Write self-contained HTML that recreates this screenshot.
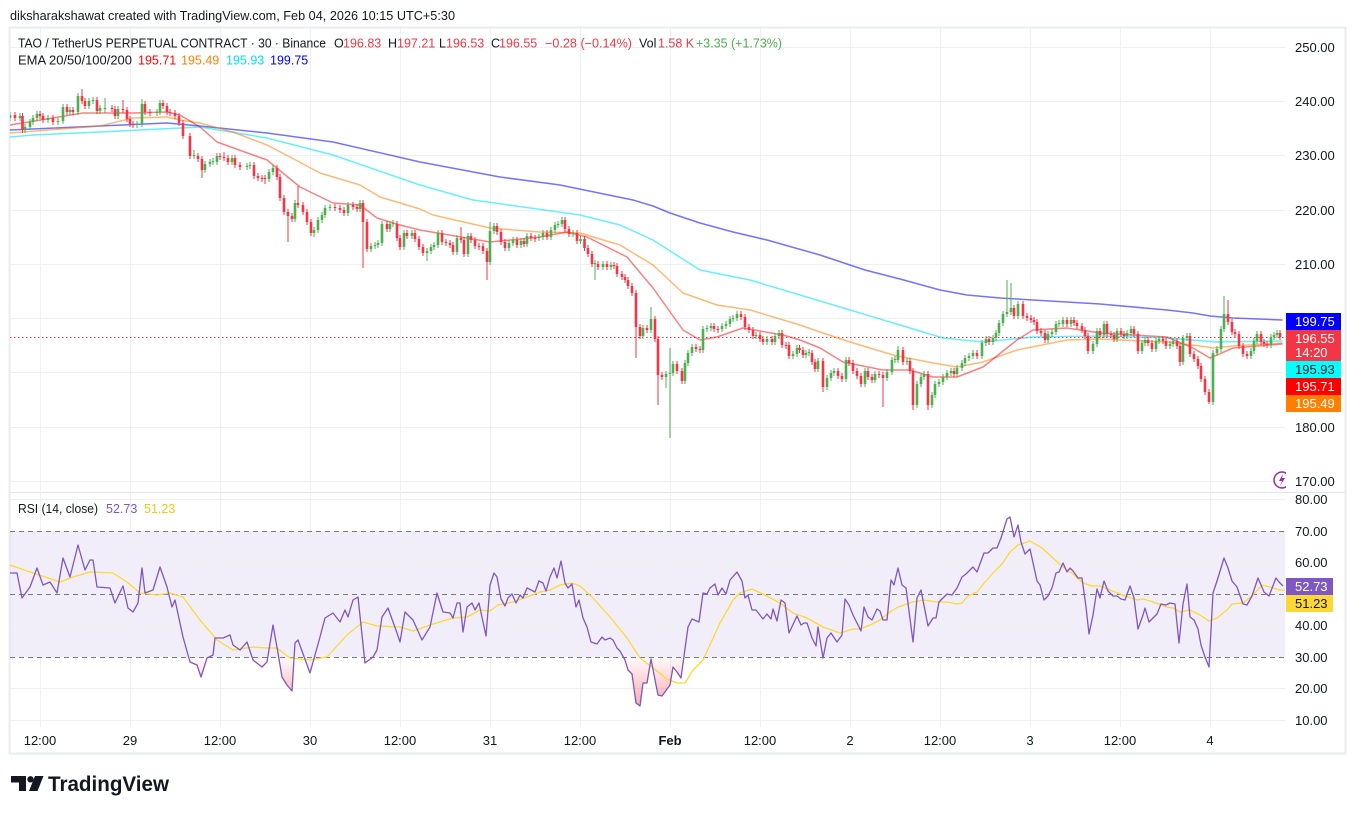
<!DOCTYPE html>
<html><head><meta charset="utf-8">
<style>
html,body{margin:0;padding:0;background:#fff;}
svg{display:block;font-family:"Liberation Sans",Arial,sans-serif;}
</style></head><body>
<svg width="1355" height="814" viewBox="0 0 1355 814" xmlns="http://www.w3.org/2000/svg">
<defs>
<clipPath id="pp"><rect x="10" y="28" width="1275" height="463"/></clipPath>
<clipPath id="rp"><rect x="10" y="493" width="1275" height="234"/></clipPath>
<clipPath id="below30"><rect x="10" y="657" width="1275" height="70"/></clipPath>
<clipPath id="iconclip"><rect x="1260" y="460" width="26" height="30"/></clipPath>
<linearGradient id="osg" x1="0" y1="657" x2="0" y2="710" gradientUnits="userSpaceOnUse">
<stop offset="0" stop-color="#f23645" stop-opacity="0.02"/>
<stop offset="1" stop-color="#f23645" stop-opacity="0.45"/>
</linearGradient>
</defs>
<rect width="1355" height="814" fill="#fff"/>

<text x="10" y="20" font-size="13" fill="#131722" textLength="445" lengthAdjust="spacingAndGlyphs">diksharakshawat created with TradingView.com, Feb 04, 2026 10:15 UTC+5:30</text>

<rect x="9.5" y="27.5" width="1336" height="726" fill="none" stroke="#e9ecf1" stroke-width="2"/>
<line x1="10" y1="492.5" x2="1345" y2="492.5" stroke="#e0e3eb" stroke-width="1"/>

<rect x="10" y="531" width="1275" height="126" fill="#7e57c2" fill-opacity="0.1"/>

<g stroke="#eef0f4" stroke-width="1">
<line x1="40.5" y1="28" x2="40.5" y2="727"/><line x1="130.5" y1="28" x2="130.5" y2="727"/>
<line x1="220.5" y1="28" x2="220.5" y2="727"/><line x1="310.5" y1="28" x2="310.5" y2="727"/>
<line x1="400.5" y1="28" x2="400.5" y2="727"/><line x1="490.5" y1="28" x2="490.5" y2="727"/>
<line x1="580.5" y1="28" x2="580.5" y2="727"/><line x1="670.5" y1="28" x2="670.5" y2="727"/>
<line x1="760.5" y1="28" x2="760.5" y2="727"/><line x1="850.5" y1="28" x2="850.5" y2="727"/>
<line x1="940.5" y1="28" x2="940.5" y2="727"/><line x1="1030.5" y1="28" x2="1030.5" y2="727"/>
<line x1="1120.5" y1="28" x2="1120.5" y2="727"/><line x1="1210.5" y1="28" x2="1210.5" y2="727"/>
<line x1="10" y1="47.5" x2="1285" y2="47.5"/><line x1="10" y1="101.5" x2="1285" y2="101.5"/>
<line x1="10" y1="155.5" x2="1285" y2="155.5"/><line x1="10" y1="210.5" x2="1285" y2="210.5"/>
<line x1="10" y1="264.5" x2="1285" y2="264.5"/><line x1="10" y1="318.5" x2="1285" y2="318.5"/>
<line x1="10" y1="372.5" x2="1285" y2="372.5"/><line x1="10" y1="427.5" x2="1285" y2="427.5"/>
<line x1="10" y1="481.5" x2="1285" y2="481.5"/>
<line x1="10" y1="499.5" x2="1285" y2="499.5"/><line x1="10" y1="562.5" x2="1285" y2="562.5"/>
<line x1="10" y1="625.5" x2="1285" y2="625.5"/><line x1="10" y1="688.5" x2="1285" y2="688.5"/>
<line x1="10" y1="720.5" x2="1285" y2="720.5"/>
</g>
<g stroke="#787b86" stroke-width="1" stroke-dasharray="5,4">
<line x1="10" y1="531.5" x2="1285" y2="531.5"/>
<line x1="10" y1="594.5" x2="1285" y2="594.5"/>
<line x1="10" y1="657.5" x2="1285" y2="657.5"/>
</g>

<g clip-path="url(#pp)">
<line x1="10" y1="337.5" x2="1285" y2="337.5" stroke="#f23645" stroke-width="1" stroke-dasharray="1.5,2.5"/>
<g fill="none" stroke-width="1.5" stroke-linejoin="round" stroke-linecap="round">
<polyline stroke="#0000ff" stroke-opacity="0.55" points="10,130 100,126 167,123 200,126 267,133 333,142 420,162 500,177 560,185 633,200 653,206 670,213 700,223 733,232 767,240 820,255 865,270 900,279 940,290 967,295 1000,298 1033,300 1100,304 1167,310 1193,313 1210,316 1233,318 1282,320"/>
<polyline stroke="#00e5ff" stroke-opacity="0.6" points="10,137 33,135 100,132 200,127 267,138 333,155 420,185 473,200 580,215 620,225 653,240 700,270 750,280 800,295 850,310 900,325 943,338 983,342 1033,337 1100,336 1167,338 1217,342 1282,341"/>
<polyline stroke="#ff8000" stroke-opacity="0.55" points="10,133 100,126 133,118 167,117 180,120 200,123 233,132 267,145 290,157 320,173 360,185 380,197 400,203 420,209 433,215 490,228 540,232 580,233 620,245 653,265 683,293 717,305 750,310 800,325 820,332 850,342 893,355 933,363 957,367 983,362 1017,350 1067,340 1100,339 1167,342 1200,346 1213,348 1233,346 1282,343"/>
<polyline stroke="#ff0000" stroke-opacity="0.5" points="10,125 83,113 133,113 167,112 180,115 200,127 217,142 267,160 300,187 333,203 360,205 377,218 400,225 420,230 490,242 540,237 567,232 587,237 627,257 653,288 683,330 700,340 717,337 743,328 783,335 800,340 820,348 843,362 883,370 910,370 933,377 957,377 983,367 1017,340 1033,330 1067,328 1100,333 1167,337 1193,348 1210,358 1233,348 1282,344"/>
</g>
<!-- green wicks -->
<path fill="none" stroke="#4caf50" stroke-width="1" d="M10 112V121M20 113V121M25 124V133M30 119V130M33 115V125M37 111V121M48 115V123M58 118V125M63 104V124M70 107V115M78 93V115M89 98V109M93 97V104M100 105V114M105 98V113M118 106V119M137 121V128M142 99V127M157 109V116M160 100V115M194 150V159M205 161V173M210 159V167M213 158V165M217 153V165M232 155V165M247 163V170M250 162V169M269 169V182M273 165V175M295 200V222M314 227V237M318 217V233M322 212V223M325 205V218M330 204V211M348 202V216M360 200V212M371 243V252M375 242V249M378 240V248M382 221V246M390 221V232M393 220V227M404 230V250M412 230V239M427 248V261M431 244V254M434 242V250M438 230V248M457 235V255M468 233V257M490 222V265M494 223V234M509 240V251M513 237V246M521 238V248M527 233V247M539 234V241M543 230V240M551 227V240M555 222V233M558 221V228M562 217V227M573 230V237M580.5 236V244M595 260V280M603 261V270M611 262V270M643 325V339M651 307V333M666 371V388M670 348V438M673 361V376M685 360V384M688 350V366M692 344V356M703 326V353M707 325V332M711 323V331M722 323V332M726 321V329M730 316V327M733 315V322M737 311V321M756 332V339M767 336V345M775 333V345M779 330V339M793 351V359M797 345V357M806 350V358M809 349V356M818 358V372M827 375V390M831 370V381M834 368V376M846 357V382M865 368V387M875 371V383M887 369V381M892 357V375M895 356V363M898 346V363M907 358V365M917 381V408M921 374V387M924 371V380M932 392V408M935 381V398M939 379V387M943 374V385M947 370V380M951 368V376M957 365V377M962 360V371M965 355V366M969 353V361M973 350V359M982 340V359M986 336V346M993 335V345M996 330V341M999 320V336M1003 311V326M1007 280V317M1011 283V315M1018 301V319M1048 331V343M1052 329V337M1056 321V335M1059 320V327M1063 317V327M1071 317V327M1093 341V354M1097 328V347M1104 321V338M1117 328V342M1127 330V339M1131 326V336M1142 340V354M1145 337V346M1156 338V352M1159 336V344M1170 341V349M1173 338V347M1183 335V365M1187 333V341M1213 350V405M1217 346V356M1221 326V352M1224 296V332M1251 348V359M1254 338V354M1257 331V344M1271 334V348M1274 332V340M1277 330V338"/>
<!-- green bodies -->
<path fill="none" stroke="#4caf50" stroke-width="2.6" d="M10 115V118M20 116V118M25 127V130M30 122V127M33 118V122M37 114V118M48 118V120M58 121V122M63 107V121M70 110V112M78 96V112M89 101V106M93 100V101M100 108V111M105 108V109M118 109V116M137 124V125M142 104V124M157 112V113M160 103V112M194 155V156M205 164V170M210 162V164M213 161V162M217 156V162M232 158V162M247 166V167M250 165V166M269 172V179M273 168V172M295 203V219M314 230V233M318 220V230M322 215V220M325 208V215M330 207V208M348 205V213M360 203V209M371 246V249M375 245V246M378 243V245M382 224V243M390 224V229M393 223V224M404 233V247M412 233V236M427 251V253M431 247V251M434 245V247M438 233V245M457 238V252M468 236V254M490 231V262M494 226V231M509 243V248M513 240V243M521 241V245M527 236V244M539 237V238M543 233V237M551 230V237M555 225V230M558 224V225M562 220V224M573 233V234M580.5 239V241M595 263V264M603 264V267M611 265V267M643 328V336M651 319V330M666 374V377M670 373V374M673 364V373M685 363V381M688 353V363M692 347V353M703 329V350M707 328V329M711 326V328M722 326V329M726 324V326M730 319V324M733 318V319M737 314V318M756 335V336M767 339V342M775 336V342M779 333V336M793 354V356M797 348V354M806 353V355M809 352V353M818 361V369M827 378V387M831 373V378M834 371V373M846 360V379M865 371V384M875 374V380M887 372V378M892 360V372M895 359V360M898 350V360M907 361V362M917 384V405M921 377V384M924 374V377M932 395V405M935 384V395M939 382V384M943 377V382M947 373V377M951 371V373M957 368V374M962 363V368M965 358V363M969 356V358M973 353V356M982 343V356M986 339V343M993 338V342M996 333V338M999 323V333M1003 314V323M1007 312V314M1011 308V312M1018 304V316M1048 334V340M1052 332V334M1056 324V332M1059 323V324M1063 320V324M1071 320V324M1093 344V351M1097 331V344M1104 324V335M1117 331V339M1127 333V336M1131 329V333M1142 343V351M1145 340V343M1156 341V349M1159 339V341M1170 344V346M1173 341V344M1183 338V362M1187 336V338M1213 353V402M1217 349V353M1221 329V349M1224 314V329M1251 351V356M1254 341V351M1257 334V341M1271 337V345M1274 335V337M1277 333V335"/>
<!-- red wicks -->
<path fill="none" stroke="#f23645" stroke-width="1" d="M15 112V121M22.5 113V133M40 111V119M43 113V123M53 115V125M67 104V115M73 107V115M82 89V104M85 98V109M97 97V114M112 105V112M115 106V119M123 100V113M127 107V122M130 116V127M133 121V128M145 101V115M150 109V116M163 100V109M167 103V115M170 109V116M175 110V119M179 113V126M183 120V139M190 133V159M198 153V162M202 156V178M220 153V160M224 152V161M228 155V165M235 155V168M240 162V170M254 162V179M258 173V181M262 175V182M265 175V184M277 165V180M280 174V201M284 195V215M288 209V242M292 213V222M298 186V208M303 202V215M307 209V225M311 219V236M335 204V211M340 205V213M344 207V216M353 202V210M357 204V212M363 200V268M367 219V252M387 221V232M397 221V241M400 235V250M407 230V239M415 230V242M419 236V250M423 244V256M442 230V245M446 239V246M450 240V248M453 242V255M461 227V243M464 237V257M471 233V243M475 237V249M479 243V250M483 243V254M487 248V280M497 223V235M501 229V245M505 239V251M517 237V248M524 238V247M531 233V241M535 235V242M547 230V240M565 217V232M569 226V237M577 230V244M584.5 236V251M588 245V257M592 251V267M598 261V270M607 261V270M614 262V269M617 263V277M622 271V280M625 274V283M628 277V289M632 283V296M636 290V358M640 324V339M647 325V333M655 316V342M658 336V405M662 372V380M677 361V374M682 368V384M696 344V352M700 346V353M714 323V332M718 326V333M741 311V320M745 314V330M749 324V333M753 327V339M760 332V342M763 336V345M772 336V345M782 330V348M786 342V349M789 342V359M799.5 345V353M803 347V358M812 350V365M815 359V372M823 358V392M838 368V379M842 373V382M849 357V366M853 360V374M857 368V379M861 373V387M868 368V380M872 374V383M879 371V378M883 372V407M903 347V365M910 358V374M913 368V410M928 371V410M954 368V377M977 350V359M989 336V345M1014 305V319M1023 301V319M1027 313V321M1031 315V323M1034 317V325M1037 319V334M1041 328V336M1045 330V343M1067 317V327M1074 317V326M1077 320V329M1082 323V333M1085 327V339M1088 333V354M1100 328V338M1107 321V337M1111 331V338M1114 332V342M1121 328V337M1124 331V339M1134 326V337M1138 331V354M1148 337V346M1152 340V352M1163 336V344M1166 338V349M1177 338V349M1180 343V366M1190 333V357M1194 351V362M1198 356V369M1201 363V382M1205 376V395M1209 389V404M1228 300V325M1232 319V335M1235 329V337M1239 331V349M1243 343V357M1247 351V359M1261 331V345M1264 339V347M1267 341V348M1280 330V340"/>
<!-- red bodies -->
<path fill="none" stroke="#f23645" stroke-width="2.6" d="M15 115V118M22.5 116V130M40 114V116M43 116V120M53 118V122M67 107V112M73 110V112M82 96V101M85 101V106M97 100V111M112 108V109M115 109V116M123 109V110M127 110V119M130 119V124M133 124V125M145 104V112M150 112V113M163 103V106M167 106V112M170 112V113M175 113V116M179 116V123M183 123V136M190 136V156M198 156V159M202 159V170M220 156V157M224 157V158M228 158V162M235 158V165M240 165V167M254 165V176M258 176V178M262 178V179M265 178V179M277 168V177M280 177V198M284 198V212M288 212V216M292 216V219M298 203V205M303 205V212M307 212V222M311 222V233M335 207V208M340 208V210M344 210V213M353 205V207M357 207V209M363 203V222M367 222V249M387 224V229M397 224V238M400 238V247M407 233V236M415 233V239M419 239V247M423 247V253M442 233V242M446 242V243M450 243V245M453 245V252M461 238V240M464 240V254M471 236V240M475 240V246M479 246V247M483 246V251M487 251V262M497 226V232M501 232V242M505 242V248M517 240V245M524 241V244M531 236V238M535 238V239M547 233V237M565 220V229M569 229V234M577 233V241M584.5 239V248M588 248V254M592 254V264M598 264V267M607 264V267M614 265V266M617 266V274M622 274V277M625 277V280M628 280V286M632 286V293M636 293V327M640 327V336M647 328V330M655 319V339M658 339V375M662 375V377M677 364V371M682 371V381M696 347V349M700 349V350M714 326V329M718 329V330M741 314V317M745 317V327M749 327V330M753 330V336M760 335V339M763 339V342M772 339V342M782 333V345M786 345V346M789 345V356M799.5 348V350M803 350V355M812 353V362M815 362V369M823 361V387M838 371V376M842 376V379M849 360V363M853 363V371M857 371V376M861 376V384M868 371V377M872 377V380M879 374V375M883 375V378M903 350V362M910 361V371M913 371V405M928 374V405M954 371V374M977 353V356M989 339V342M1014 308V316M1023 304V316M1027 316V318M1031 318V320M1034 320V322M1037 322V331M1041 331V333M1045 333V340M1067 320V324M1074 320V323M1077 323V326M1082 326V330M1085 330V336M1088 336V351M1100 331V335M1107 324V334M1111 334V335M1114 335V339M1121 331V334M1124 334V336M1134 329V334M1138 334V351M1148 340V343M1152 343V349M1163 339V341M1166 341V346M1177 341V346M1180 346V362M1190 336V354M1194 354V359M1198 359V366M1201 366V379M1205 379V392M1209 392V402M1228 314V322M1232 322V332M1235 332V334M1239 334V346M1243 346V354M1247 354V356M1261 334V342M1264 342V344M1267 344V345M1280 333V337"/>
</g>

<g clip-path="url(#rp)">
<g clip-path="url(#below30)">
<polygon fill="url(#osg)" points="10,657 10,573 17,573 22,598 30,587 37,568 43,585 50,582 57,593 63,558 70,577 78,545 85,570 90,560 93,560 97,587 110,588 115,603 123,586 128,608 133,612 138,603 142,568 145,593 153,590 160,567 167,587 172,607 175,600 183,637 190,662 197,665 201,677 207,658 213,655 215,638 223,638 230,635 233,645 240,650 247,642 253,660 262,667 267,662 273,625 278,653 282,677 287,685 292,691 295,643 298,640 310,673 320,637 325,618 333,613 340,622 345,610 348,617 353,600 358,597 365,663 373,657 377,650 382,617 388,608 397,633 400,642 405,612 413,620 422,640 430,627 437,593 443,612 450,613 453,618 457,603 460,603 463,632 467,607 472,603 475,610 479,603 486,636 490,585 494,573 497,577 501,599 505,606 508,598 512,594 516,603 520,595 523,598 527,588 535,592 539,581 543,583 546,591 550,577 554,568 557,578 561,561 565,583 568,588 572,584 576,607 579,600 583,618 587,627 591,642 594,643 597,644 602,637 605,640 610,638 613,640 617,648 620,651 625,660 628,670 632,674 636,703 640,706 643,683 647,683 651,659 655,680 658,695 662,696 670,685 673,667 677,672 681,678 688,627 692,619 699,622 703,593 707,594 710,588 715,584 718,595 722,588 726,594 730,580 737,572 742,581 745,598 748,595 752,610 756,610 763,619 767,614 771,619 773,609 777,621 781,600 785,603 789,633 797,616 801,625 804,623 807,623 812,638 816,646 818,627 823,658 827,638 831,633 837,642 842,635 845,599 849,605 853,615 861,631 864,607 868,617 872,620 877,609 880,611 883,620 887,620 891,580 894,585 898,568 902,585 906,588 913,642 917,598 921,590 928,626 933,618 936,618 939,602 947,594 952,595 957,588 962,577 966,574 973,567 977,572 984,553 988,553 993,548 997,548 1001,538 1007,519 1010,517 1014,537 1018,525 1021,542 1025,554 1030,549 1037,581 1040,585 1044,600 1048,596 1052,588 1056,573 1059,572 1063,563 1067,572 1070,568 1073,571 1078,578 1082,578 1086,607 1089,634 1093,615 1097,589 1100,598 1104,581 1108,591 1113,596 1117,596 1121,599 1125,600 1130,586 1134,598 1138,629 1143,615 1145,608 1149,622 1153,618 1157,614 1161,604 1166,605 1170,603 1175,604 1179,643 1183,604 1187,584 1190,617 1194,620 1198,629 1201,645 1205,657 1209,667 1213,593 1217,581 1224,558 1228,568 1232,581 1237,587 1243,604 1247,605 1252,596 1258,578 1264,592 1269,596 1276,578 1279,582 1283,586 1283,657"/>
</g>
<polyline fill="none" stroke="#fdd835" stroke-width="1.3" stroke-linejoin="round" points="10,565 33,573 60,582 73,577 90,572 113,573 127,582 140,593 157,595 170,593 183,597 200,620 217,640 233,650 253,647 267,648 277,648 290,658 310,660 327,657 347,635 363,622 377,626 400,627 413,631 433,624 453,618 467,617 480,610 490,611 498,605 513,602 527,597 540,592 550,590 560,585 572,583 580,586 593,598 610,617 627,638 640,658 653,668 667,679 677,683 685,683 693,670 703,660 720,623 733,600 740,593 752,589 763,594 780,603 793,613 807,618 823,627 840,633 853,629 860,629 870,625 880,620 890,612 898,607 913,602 923,600 938,602 947,602 957,604 962,603 968,596 977,592 985,582 993,573 1002,564 1010,552 1018,545 1030,541 1042,548 1053,558 1063,567 1073,574 1083,583 1092,586 1100,586 1110,590 1120,594 1137,600 1143,599 1153,602 1167,607 1173,608 1180,612 1190,610 1200,615 1209,621 1217,618 1228,609 1232,604 1243,603 1253,595 1262,585 1270,587 1280,590 1285,590"/>
<polyline fill="none" stroke="#7e57c2" stroke-width="1.3" stroke-linejoin="round" points="10,573 17,573 22,598 30,587 37,568 43,585 50,582 57,593 63,558 70,577 78,545 85,570 90,560 93,560 97,587 110,588 115,603 123,586 128,608 133,612 138,603 142,568 145,593 153,590 160,567 167,587 172,607 175,600 183,637 190,662 197,665 201,677 207,658 213,655 215,638 223,638 230,635 233,645 240,650 247,642 253,660 262,667 267,662 273,625 278,653 282,677 287,685 292,691 295,643 298,640 310,673 320,637 325,618 333,613 340,622 345,610 348,617 353,600 358,597 365,663 373,657 377,650 382,617 388,608 397,633 400,642 405,612 413,620 422,640 430,627 437,593 443,612 450,613 453,618 457,603 460,603 463,632 467,607 472,603 475,610 479,603 486,636 490,585 494,573 497,577 501,599 505,606 508,598 512,594 516,603 520,595 523,598 527,588 535,592 539,581 543,583 546,591 550,577 554,568 557,578 561,561 565,583 568,588 572,584 576,607 579,600 583,618 587,627 591,642 594,643 597,644 602,637 605,640 610,638 613,640 617,648 620,651 625,660 628,670 632,674 636,703 640,706 643,683 647,683 651,659 655,680 658,695 662,696 670,685 673,667 677,672 681,678 688,627 692,619 699,622 703,593 707,594 710,588 715,584 718,595 722,588 726,594 730,580 737,572 742,581 745,598 748,595 752,610 756,610 763,619 767,614 771,619 773,609 777,621 781,600 785,603 789,633 797,616 801,625 804,623 807,623 812,638 816,646 818,627 823,658 827,638 831,633 837,642 842,635 845,599 849,605 853,615 861,631 864,607 868,617 872,620 877,609 880,611 883,620 887,620 891,580 894,585 898,568 902,585 906,588 913,642 917,598 921,590 928,626 933,618 936,618 939,602 947,594 952,595 957,588 962,577 966,574 973,567 977,572 984,553 988,553 993,548 997,548 1001,538 1007,519 1010,517 1014,537 1018,525 1021,542 1025,554 1030,549 1037,581 1040,585 1044,600 1048,596 1052,588 1056,573 1059,572 1063,563 1067,572 1070,568 1073,571 1078,578 1082,578 1086,607 1089,634 1093,615 1097,589 1100,598 1104,581 1108,591 1113,596 1117,596 1121,599 1125,600 1130,586 1134,598 1138,629 1143,615 1145,608 1149,622 1153,618 1157,614 1161,604 1166,605 1170,603 1175,604 1179,643 1183,604 1187,584 1190,617 1194,620 1198,629 1201,645 1205,657 1209,667 1213,593 1217,581 1224,558 1228,568 1232,581 1237,587 1243,604 1247,605 1252,596 1258,578 1264,592 1269,596 1276,578 1279,582 1283,586"/>
</g>

<g font-size="12.5">
<text x="18" y="47.5" fill="#131722" textLength="308" lengthAdjust="spacingAndGlyphs">TAO / TetherUS PERPETUAL CONTRACT · 30 · Binance</text>
<text x="334" y="47.5" fill="#131722">O</text><text x="343" y="47.5" fill="#f23645">196.83</text>
<text x="388" y="47.5" fill="#131722">H</text><text x="397" y="47.5" fill="#f23645">197.21</text>
<text x="439" y="47.5" fill="#131722">L</text><text x="446" y="47.5" fill="#f23645">196.53</text>
<text x="491" y="47.5" fill="#131722">C</text><text x="499" y="47.5" fill="#f23645">196.55</text>
<text x="545" y="47.5" fill="#f23645" textLength="87" lengthAdjust="spacingAndGlyphs">−0.28 (−0.14%)</text>
<text x="639" y="47.5" fill="#131722">Vol</text><text x="658" y="47.5" fill="#f23645">1.58 K</text>
<text x="696" y="47.5" fill="#4caf50" textLength="86" lengthAdjust="spacingAndGlyphs">+3.35 (+1.73%)</text>
<text x="18" y="64.5" fill="#131722" textLength="114" lengthAdjust="spacingAndGlyphs">EMA 20/50/100/200</text>
<text x="138" y="64.5" fill="#ff0000">195.71</text>
<text x="181" y="64.5" fill="#ff8000">195.49</text>
<text x="226" y="64.5" fill="#00e0f0">195.93</text>
<text x="270" y="64.5" fill="#0000ff">199.75</text>
<text x="18" y="513" fill="#131722" textLength="80" lengthAdjust="spacingAndGlyphs">RSI (14, close)</text>
<text x="106" y="513" fill="#7e57c2">52.73</text>
<text x="144" y="513" fill="#f5c518">51.23</text>
</g>

<g font-size="13" fill="#131722">
<text x="1295" y="52">250.00</text>
<text x="1295" y="106">240.00</text>
<text x="1295" y="160">230.00</text>
<text x="1295" y="215">220.00</text>
<text x="1295" y="269">210.00</text>
<text x="1295" y="432">180.00</text>
<text x="1295" y="486">170.00</text>
<text x="1295" y="504">80.00</text>
<text x="1295" y="536">70.00</text>
<text x="1295" y="567">60.00</text>
<text x="1295" y="630">40.00</text>
<text x="1295" y="662">30.00</text>
<text x="1295" y="693">20.00</text>
<text x="1295" y="725">10.00</text>
</g>
<g clip-path="url(#iconclip)">
<circle cx="1282" cy="480" r="8" fill="#fff" stroke="#9c27b0" stroke-width="1.5"/>
<path d="M1283 474 L1279 481 L1282 481 L1280 486 L1285 478 L1282 478 Z" fill="#9c27b0"/>
</g>

<g font-size="13">
<rect x="1286" y="313" width="55" height="17" fill="#0000ff"/>
<text x="1295" y="326" fill="#fff">199.75</text>
<rect x="1286" y="330" width="55" height="31" fill="#f23645"/>
<text x="1295" y="343" fill="#fff">196.55</text>
<text x="1295" y="357" fill="#fff">14:20</text>
<rect x="1286" y="361" width="55" height="17" fill="#00ffff"/>
<text x="1295" y="374" fill="#131722">195.93</text>
<rect x="1286" y="378" width="55" height="17" fill="#ff0000"/>
<text x="1295" y="391" fill="#fff">195.71</text>
<rect x="1286" y="395" width="55" height="17" fill="#ff8000"/>
<text x="1295" y="408" fill="#fff">195.49</text>
<rect x="1286" y="578" width="47" height="17" fill="#7e57c2"/>
<text x="1295" y="591" fill="#fff">52.73</text>
<rect x="1286" y="595" width="47" height="17" fill="#fdd835"/>
<text x="1295" y="608" fill="#131722">51.23</text>
</g>

<g font-size="13" fill="#131722" text-anchor="middle">
<text x="40" y="745">12:00</text>
<text x="130" y="745">29</text>
<text x="220" y="745">12:00</text>
<text x="310" y="745">30</text>
<text x="400" y="745">12:00</text>
<text x="490" y="745">31</text>
<text x="580" y="745">12:00</text>
<text x="670" y="745" font-weight="bold">Feb</text>
<text x="760" y="745">12:00</text>
<text x="850" y="745">2</text>
<text x="940" y="745">12:00</text>
<text x="1030" y="745">3</text>
<text x="1120" y="745">12:00</text>
<text x="1210" y="745">4</text>
</g>

<g fill="#131722">
<path d="M11 776 H26 V791 H19 V782.5 H11 Z"/>
<circle cx="30.5" cy="779.3" r="3.2"/>
<path d="M35 776 H43.5 L37.5 791 H29 Z"/>
<text x="48" y="791" font-size="21" font-weight="bold" textLength="121" lengthAdjust="spacingAndGlyphs">TradingView</text>
</g>
</svg>
</body></html>
